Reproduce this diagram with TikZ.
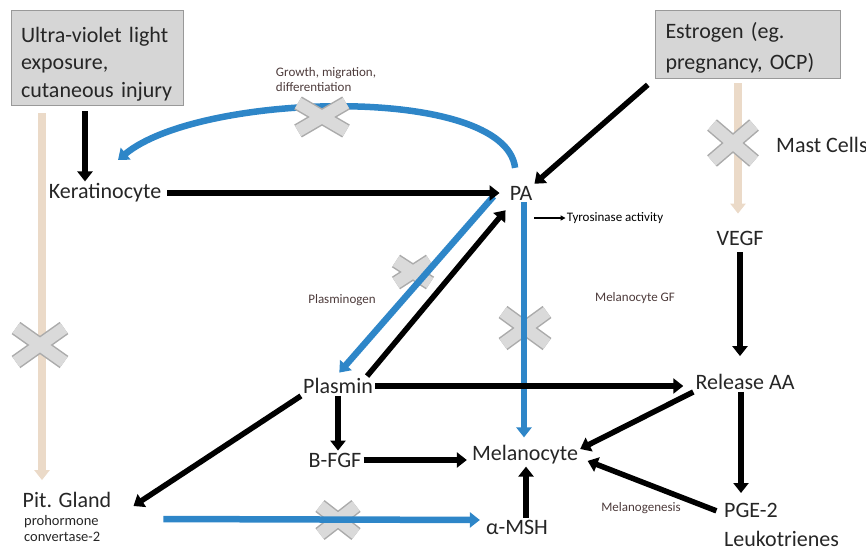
\documentclass[tikz,border=0pt]{standalone}
\usepackage{fontspec}
\setmainfont{Carlito}
\usetikzlibrary{arrows.meta}
\definecolor{pabl}{HTML}{2E86C8}
\definecolor{tanln}{HTML}{EBDAC8}
\definecolor{boxgr}{HTML}{D6D6D6}
\definecolor{xedge}{HTML}{ABABAB}
\definecolor{xfill}{HTML}{DADADA}
\definecolor{notecol}{HTML}{4D3B3B}

\begin{document}
\begin{tikzpicture}[x=1pt, y=-1pt, >={Triangle[length=10pt,width=15pt]},
  lbl/.style={text=black!85, font=\fontsize{22}{26}\selectfont, inner sep=2pt},
  note/.style={text=notecol, font=\fontsize{13}{15}\selectfont, inner sep=1pt},
  srcbox/.style={lbl, draw=black!40, fill=boxgr, align=left, inner xsep=10pt, inner ysep=0pt},
  blk/.style={->, line width=5.5pt},
  blu/.style={->, pabl, line width=6.5pt},
  tanarr/.style={->, tanln, line width=8pt},
  xout/.style={xedge, line width=15pt},
  xin/.style={xfill, line width=12pt}]
\useasboundingbox (0,0) rectangle (866,555);
\node[srcbox, text width=152pt, minimum height=95pt, font=\fontsize{22}{27.5}\selectfont] (UV) at (97,57.5) {\rule{0pt}{28pt}Ultra-violet light\\exposure,\\cutaneous injury};
\node[srcbox, text width=165pt, minimum height=68pt, font=\fontsize{22}{31}\selectfont] (Est) at (748,44) {\rule{0pt}{24pt}Estrogen (eg.\\pregnancy, OCP)};
\node[lbl] (Ker) at (105,193) {Keratinocyte};
\node[lbl] (PA) at (521,193) {PA};
\node[lbl] (Plasmin) at (338,386) {Plasmin};
\node[lbl] (BFGF) at (335,460) {B-FGF};
\node[lbl] (Mel) at (525,455) {Melanocyte};
\node[lbl] (MSH) at (517,527) {α-MSH};
\node[lbl] (Pit) at (67,500) {Pit. Gland};
\node[note, text=black!85, font=\fontsize{14.5}{16}\selectfont, anchor=north west, align=left] (PitNote) at (23,514) {prohormone\\convertase-2};
\node[lbl] (VEGF) at (740,238) {VEGF};
\node[lbl] (RelAA) at (745,382) {Release AA};
\node[lbl, align=left, anchor=north west, font=\fontsize{22}{29}\selectfont] (PGE) at (722,501) {PGE-2\\Leukotrienes};
\node[lbl, anchor=west] (Mast) at (774,145) {Mast Cells};
\node[note, align=left] (Growth) at (326,80) {Growth, migration,\\differentiation};
\node[note, text=black] (Tyro) at (615,218) {Tyrosinase activity};
\node[note] (Plgen) at (342,300) {Plasminogen};
\node[note] (MelGF) at (635,298) {Melanocyte GF};
\node[note] (Melgen) at (641,508) {Melanogenesis};
\coordinate (KerIn) at (118,160);

\draw[tanarr, shorten <=8pt, shorten >=10pt] ([xshift=-55pt]UV.south) -- ([xshift=-55pt]UV.south |- Pit.north);
\draw[tanarr, shorten <=5pt, shorten >=15pt] ([xshift=-10pt]Est.south) -- ([xshift=-10pt]Est.south |- VEGF.north);
\draw[blu, shorten <=16pt] ([xshift=-4pt]PA.north) .. controls (505,84) and (200,92) .. (KerIn);
\foreach \cx/\cy/\w/\h in {322/117/48/28, 413/272/34/22, 525/328/44/32, 40/345/48/34, 338/520/36/28, 733/143/42/36}{
  \draw[xout] (\cx-\w/2,\cy-\h/2) -- (\cx+\w/2,\cy+\h/2) (\cx-\w/2,\cy+\h/2) -- (\cx+\w/2,\cy-\h/2);
  \draw[xin] (\cx-\w/2,\cy-\h/2) -- (\cx+\w/2,\cy+\h/2) (\cx-\w/2,\cy+\h/2) -- (\cx+\w/2,\cy-\h/2);
}
\draw[blu, shorten >=2pt] ([shift={(-14pt,6pt)}]PA.south west) -- ([yshift=2pt]Plasmin.north);
\draw[blu, shorten >=6pt] ([xshift=3pt]PA.south) -- ([xshift=3pt]PA.south |- Mel.north);
\draw[blu, shorten >=4pt] ([shift={(50pt,-19pt)}]Pit.east) -- ([yshift=7pt]MSH.west);

\draw[blk, shorten <=6pt] ([xshift=-12pt]UV.south) -- ([xshift=-20pt]Ker.north);
\draw[blk, shorten <=4pt, shorten >=8pt] (Ker.east) -- (PA.west);
\draw[blk, shorten <=10pt] (Est.south west) -- (PA.north east);
\draw[blk] ([xshift=-8pt]Plasmin.north east) -- ([shift={(-2pt,-8pt)}]PA.south west);
\draw[blk, shorten >=10pt] (Plasmin.east) -- (Plasmin.east -| RelAA.west);
\draw[blk] (Plasmin.south) -- (Plasmin.south |- BFGF.north);
\draw[blk] (Plasmin.south west) -- ([shift={(20pt,-6pt)}]Pit.east);
\draw[blk, shorten >=3pt] (BFGF.east) -- (BFGF.east -| Mel.west);
\draw[blk] ([xshift=9pt]MSH.north) -- ([xshift=9pt]MSH.north |- Mel.south);
\draw[blk, shorten <=5pt, shorten >=16pt] (VEGF.south) -- (VEGF.south |- RelAA.north);
\draw[blk] (RelAA.south west) -- ([yshift=6pt]Mel.east);
\draw[blk, shorten >=8pt] ([xshift=-4pt]RelAA.south) -- ([xshift=-4pt]RelAA.south |- PGE.north);
\draw[blk, shorten <=6pt, shorten >=8pt] ([yshift=-12pt]PGE.north west) -- ([yshift=-3pt]Mel.east);
\draw[-{Triangle[length=5pt,width=5pt]}, line width=1.5pt] (Tyro.west -| PA.east) -- (Tyro.west);
\end{tikzpicture}
\end{document}
